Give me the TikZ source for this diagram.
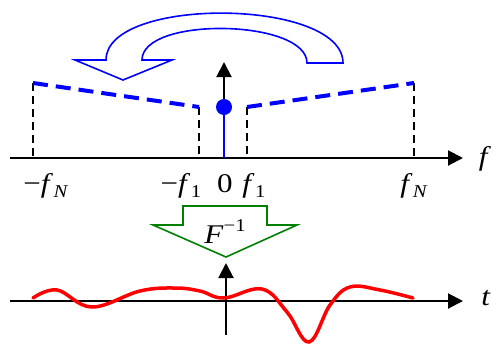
\documentclass[tikz,border=0pt]{standalone}
\usepackage{fontspec}
\setmainfont{Liberation Serif}
\newfontfamily\labfont{Liberation Serif}[Scale=2.7,FakeStretch=1.15]
\newfontfamily\subfont{Liberation Serif}[Scale=1.8,FakeStretch=1.15]
\usetikzlibrary{arrows.meta}
\newcommand{\fsub}[1]{\textit{f}\kern0.02em\raisebox{-0.22em}{\subfont #1}}
\begin{document}
\begin{tikzpicture}[x=1pt,y=-1pt,
  axis/.style={line width=2pt,-{Triangle[length=15pt,width=15pt]}},
  guide/.style={line width=1.4pt,dash pattern=on 8pt off 5pt},
  spec/.style={blue,line width=4pt,dash pattern=on 15pt off 8pt},
  lab/.style={font=\labfont,anchor=base,inner sep=0pt}]
\useasboundingbox (0,0) rectangle (492,346);
% upper axis
\coordinate (fa0) at (10,158);
\coordinate (fa1) at (463,158);
\coordinate (va0) at (224,158);
\coordinate (va1) at (224,62);
\draw[axis] (fa0) -- (fa1);
\draw[axis] (va0) -- (va1);
% guides
\coordinate (gL) at (33,83);   \coordinate (gLb) at (33,158);
\coordinate (g1) at (199,107); \coordinate (g1b) at (199,158);
\coordinate (g2) at (247,107); \coordinate (g2b) at (247,158);
\coordinate (gR) at (414,83);  \coordinate (gRb) at (414,158);
\draw[guide] (gL) -- (gLb);
\draw[guide] (g1) -- (g1b);
\draw[guide] (g2) -- (g2b);
\draw[guide] (gR) -- (gRb);
% spectrum
\draw[spec] (gL) -- (g1);
\draw[spec] (g2) -- (gR);
\node (dot) [circle,fill=blue,minimum size=16pt,inner sep=0pt] at (224,107) {};
\draw[blue,line width=2.5pt] (dot.center) -- (va0);
% labels
\node[lab] (lfNm) at (46,192) {−\fsub{\textit{N}}};
\node[lab] (lf1m) at (181,192) {−\fsub{1}};
\node[lab] (l0) at (225,192) {0};
\node[lab] (lf1) at (254,192) {\fsub{1}};
\node[lab] (lfN) at (414,192) {\fsub{\textit{N}}};
\node[lab] (lf) at (485,165) {\textit{f}};
% blue curved arrow
\draw[blue,line width=1.6pt,line join=miter]
  (142,60) .. controls (142,16) and (307,19) .. (307,63)
  -- (343,63) .. controls (343,-2) and (106,-4) .. (106,60)
  -- (75,60) -- (123,80) -- (172,60) -- cycle;
% green arrow
\draw[green!50!black,line width=1.6pt,line join=miter]
  (183,206) -- (267,206) -- (267,225) -- (297,225) -- (226,257)
  -- (153,225) -- (183,225) -- cycle;
\node[lab] (Finv) at (225,243) {\textit{F}\raisebox{0.42em}{\subfont −1}};
% lower axis
\coordinate (ta0) at (10,301);
\coordinate (ta1) at (463,301);
\coordinate (vb0) at (226,335);
\coordinate (vb1) at (226,263);
\draw[axis] (ta0) -- (ta1);
\draw[axis] (vb0) -- (vb1);
\node[lab] (lt) at (486,305) {\textit{t}};
% signal
\draw[red,line width=3.5pt,line cap=round] plot[smooth,tension=0.65] coordinates {
  (33,298) (57,290) (92,307) (140,291) (175,288) (200,291) (224,298)
  (262,289) (287,312) (309,342) (330,305) (350,287) (380,290) (413,298)};
\end{tikzpicture}
\end{document}
